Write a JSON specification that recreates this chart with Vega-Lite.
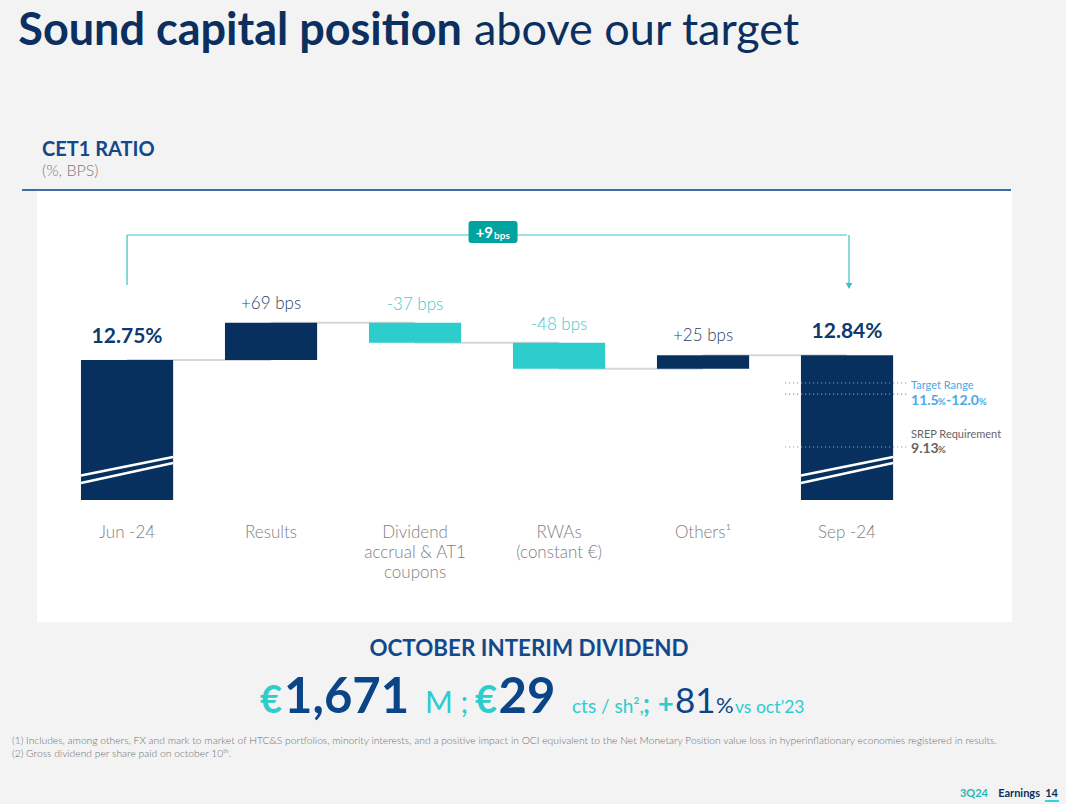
{
  "$schema": "https://vega.github.io/schema/vega-lite/v6.json",
  "background": "#f3f3f3",
  "padding": {"left": 12, "top": 0, "right": 0, "bottom": 0},
  "bounds": "flush",
  "spacing": 16,
  "config": {"font": "Lato", "view": {"stroke": null}},
  "vconcat": [
    {
      "width": 1029,
      "height": 174,
      "data": {"values": [{"part": "bold", "text": "Sound capital position"}, {"part": "regular", "text": "above our target"}]},
      "layer": [
        {"transform": [{"filter": "datum.part === 'bold'"}],
         "mark": {"type": "text", "align": "right", "baseline": "alphabetic", "dx": -89.5, "dy": -42, "fontSize": 45, "fontWeight": "bold", "color": "#0b2f5f"},
         "encoding": {"text": {"field": "text"}}},
        {"transform": [{"filter": "datum.part === 'regular'"}],
         "mark": {"type": "text", "align": "left", "baseline": "alphabetic", "dx": -77.5, "dy": -42, "fontSize": 45, "fontWeight": "normal", "color": "#0b2f5f"},
         "encoding": {"text": {"field": "text"}}}
      ]
    },
    {
      "width": 975,
      "height": 432,
      "view": {"fill": "white", "stroke": null},
      "title": {"text": "CET1 RATIO", "subtitle": "(%, BPS)", "anchor": "start", "frame": "group", "dx": 5, "offset": 10, "fontSize": 20, "fontWeight": "bold", "color": "#13498a", "subtitleFontSize": 16, "subtitleColor": "#7a7a7a", "subtitlePadding": 3, "subtitleFont": "Lato", "subtitleFontWeight": 300},
      "resolve": {"scale": {"y": "independent"}},
      "layer": [
        {
          "data": {"values": [
            {"step": "Jun -24", "type": "total", "start": null, "end": 12.75, "next": "Results", "label": "12.75%"},
            {"step": "Results", "type": "increase", "start": 12.75, "end": 13.44, "next": "Dividend|accrual & AT1|coupons", "label": "+69 bps"},
            {"step": "Dividend|accrual & AT1|coupons", "type": "decrease", "start": 13.44, "end": 13.07, "next": "RWAs|(constant €)", "label": "-37 bps"},
            {"step": "RWAs|(constant €)", "type": "decrease", "start": 13.07, "end": 12.59, "next": "Others¹", "label": "-48 bps"},
            {"step": "Others¹", "type": "increase", "start": 12.59, "end": 12.84, "next": "Sep -24", "label": "+25 bps"},
            {"step": "Sep -24", "type": "total", "start": null, "end": 12.84, "next": null, "label": "12.84%"}
          ]},
          "layer": [
            {"transform": [{"filter": "datum.next != null"}],
             "mark": {"type": "rule", "color": "#d6d6d6", "strokeWidth": 2},
             "encoding": {
               "x": {"field": "step", "type": "nominal"},
               "x2": {"field": "next"},
               "y": {"field": "end", "type": "quantitative", "scale": {"domain": [7.9, 15.9]}, "axis": null}}},
            {"transform": [{"filter": "datum.type === 'total'"}],
             "mark": {"type": "bar", "color": "#08305f"},
             "encoding": {
               "x": {"field": "step", "type": "nominal",
                     "scale": {"domain": ["Jun -24", "Results", "Dividend|accrual & AT1|coupons", "RWAs|(constant €)", "Others¹", "Sep -24"], "paddingInner": 0.36, "paddingOuter": 0.5655, "align": 0.27},
                     "axis": {"orient": "bottom", "offset": -122, "domain": false, "ticks": false, "grid": false, "title": null, "labelAngle": 0, "labelAlign": "center", "labelPadding": 24, "labelBaseline": "top", "labelExpr": "split(datum.label, '|')", "labelFontSize": 17, "labelFont": "Lato", "labelFontWeight": 300, "labelColor": "#7f7f7f", "labelLineHeight": 20, "labelLimit": 0}},
               "y": {"field": "end", "type": "quantitative", "scale": {"domain": [7.9, 15.9]}, "axis": null},
               "y2": {"datum": 10.16}}},
            {"transform": [{"filter": "datum.type === 'increase'"}],
             "mark": {"type": "bar", "color": "#08305f"},
             "encoding": {
               "x": {"field": "step", "type": "nominal"},
               "y": {"field": "start", "type": "quantitative", "scale": {"domain": [7.9, 15.9]}, "axis": null},
               "y2": {"field": "end"}}},
            {"transform": [{"filter": "datum.type === 'decrease'"}],
             "mark": {"type": "bar", "color": "#2dcccd"},
             "encoding": {
               "x": {"field": "step", "type": "nominal"},
               "y": {"field": "start", "type": "quantitative", "scale": {"domain": [7.9, 15.9]}, "axis": null},
               "y2": {"field": "end"}}},
            {"transform": [{"filter": "datum.type === 'total'"}],
             "mark": {"type": "rule", "color": "white", "strokeWidth": 2.5, "xOffset": -46, "x2Offset": 46},
             "encoding": {
               "x": {"field": "step", "type": "nominal"},
               "x2": {"field": "step"},
               "y": {"datum": 10.613, "scale": {"domain": [7.9, 15.9]}, "axis": null},
               "y2": {"datum": 10.956}}},
            {"transform": [{"filter": "datum.type === 'total'"}],
             "mark": {"type": "rule", "color": "white", "strokeWidth": 2.5, "xOffset": -46, "x2Offset": 46},
             "encoding": {
               "x": {"field": "step", "type": "nominal"},
               "x2": {"field": "step"},
               "y": {"datum": 10.474, "scale": {"domain": [7.9, 15.9]}, "axis": null},
               "y2": {"datum": 10.844}}},
            {"transform": [{"filter": "datum.type === 'total'"}],
             "mark": {"type": "text", "baseline": "alphabetic", "dy": -17, "fontSize": 21, "fontWeight": "bold", "color": "#0d3a70"},
             "encoding": {
               "x": {"field": "step", "type": "nominal"},
               "y": {"field": "end", "type": "quantitative", "scale": {"domain": [7.9, 15.9]}, "axis": null},
               "text": {"field": "label"}}},
            {"transform": [{"filter": "datum.type === 'increase'"}],
             "mark": {"type": "text", "baseline": "alphabetic", "dy": -14, "fontSize": 17, "fontWeight": 300, "color": "#1c3f6c"},
             "encoding": {
               "x": {"field": "step", "type": "nominal"},
               "y": {"field": "end", "type": "quantitative", "scale": {"domain": [7.9, 15.9]}, "axis": null},
               "text": {"field": "label"}}},
            {"transform": [{"filter": "datum.type === 'decrease'"}],
             "mark": {"type": "text", "baseline": "alphabetic", "dy": -13, "fontSize": 17, "fontWeight": 300, "color": "#46c8ca"},
             "encoding": {
               "x": {"field": "step", "type": "nominal"},
               "y": {"field": "start", "type": "quantitative", "scale": {"domain": [7.9, 15.9]}, "axis": null},
               "text": {"field": "label"}}}
          ]
        },
        {
          "data": {"values": [{"change": "+9", "unit": "bps", "from": "Jun -24", "to": "Sep -24"}]},
          "layer": [
            {"mark": {"type": "rule", "color": "#35c4c6", "strokeWidth": 1.2},
             "encoding": {"x": {"field": "from", "type": "nominal"}, "x2": {"field": "to"}, "y": {"datum": 15.067, "scale": {"domain": [7.9, 15.9]}, "axis": null}}},
            {"mark": {"type": "rule", "color": "#35c4c6", "strokeWidth": 1.2},
             "encoding": {"x": {"field": "from", "type": "nominal"}, "y": {"datum": 14.14, "scale": {"domain": [7.9, 15.9]}, "axis": null}, "y2": {"datum": 15.067}}},
            {"mark": {"type": "rule", "color": "#35c4c6", "strokeWidth": 1.2, "xOffset": 2},
             "encoding": {"x": {"field": "to", "type": "nominal"}, "y": {"datum": 14.16, "scale": {"domain": [7.9, 15.9]}, "axis": null}, "y2": {"datum": 15.067}}},
            {"mark": {"type": "point", "shape": "triangle-down", "filled": true, "size": 45, "color": "#35c4c6", "opacity": 1, "xOffset": 2},
             "encoding": {"x": {"field": "to", "type": "nominal"}, "y": {"datum": 14.122, "scale": {"domain": [7.9, 15.9]}, "axis": null}}},
            {"mark": {"type": "point", "shape": "M-0.88,-0.449 L0.88,-0.449 Q1,-0.449 1,-0.33 L1,0.33 Q1,0.449 0.88,0.449 L-0.88,0.449 Q-1,0.449 -1,0.33 L-1,-0.33 Q-1,-0.449 -0.88,-0.449 Z", "filled": true, "size": 2401, "color": "#00a39e", "opacity": 1, "xOffset": 78, "yOffset": -3},
             "encoding": {"x": {"datum": "Dividend|accrual & AT1|coupons"}, "y": {"datum": 15.067, "scale": {"domain": [7.9, 15.9]}, "axis": null}}},
            {"mark": {"type": "text", "align": "right", "baseline": "alphabetic", "dx": 78, "dy": 3, "fontSize": 15, "fontWeight": "bold", "color": "white"},
             "encoding": {"x": {"datum": "Dividend|accrual & AT1|coupons"}, "y": {"datum": 15.067, "scale": {"domain": [7.9, 15.9]}, "axis": null}, "text": {"field": "change"}}},
            {"mark": {"type": "text", "align": "left", "baseline": "alphabetic", "dx": 79, "dy": 4, "fontSize": 10, "fontWeight": "bold", "color": "white"},
             "encoding": {"x": {"datum": "Dividend|accrual & AT1|coupons"}, "y": {"datum": 15.067, "scale": {"domain": [7.9, 15.9]}, "axis": null}, "text": {"field": "unit"}}},
            {"mark": {"type": "rule", "color": "#3a6ea5", "strokeWidth": 2, "xOffset": -15, "x2Offset": -1},
             "encoding": {"x": {"value": 0}, "x2": {"value": "width"}, "y": {"datum": 15.9, "scale": {"domain": [7.9, 15.9]}, "axis": null}}}
          ]
        },
        {
          "data": {"values": [
            {"label": "Target Range", "kind": "target", "value": 12.0},
            {"label": "Target Range", "kind": "target", "value": 11.5},
            {"label": "SREP Requirement", "kind": "srep", "value": 9.13}
          ]},
          "layer": [
            {"transform": [{"filter": "datum.kind === 'target'"}],
             "mark": {"type": "rule", "color": "#4aa8e8", "strokeWidth": 1.2, "strokeDash": [1.2, 2.8], "xOffset": -62, "x2Offset": 60},
             "encoding": {"x": {"datum": "Sep -24"}, "x2": {"datum": "Sep -24"}, "y": {"field": "value", "type": "quantitative", "scale": {"domain": [1.283, 20.655]}, "axis": null}}},
            {"transform": [{"filter": "datum.kind === 'srep'"}],
             "mark": {"type": "rule", "color": "#a0a0a0", "strokeWidth": 1.2, "strokeDash": [1.2, 2.8], "xOffset": -62, "x2Offset": 60},
             "encoding": {"x": {"datum": "Sep -24"}, "x2": {"datum": "Sep -24"}, "y": {"field": "value", "type": "quantitative", "scale": {"domain": [1.283, 20.655]}, "axis": null}}},
            {"transform": [{"filter": "datum.value === 12"}],
             "mark": {"type": "text", "align": "left", "baseline": "alphabetic", "dx": 64, "dy": 6, "fontSize": 11, "color": "#4aa8e8"},
             "encoding": {"x": {"datum": "Sep -24"}, "y": {"field": "value", "type": "quantitative", "scale": {"domain": [1.283, 20.655]}, "axis": null}, "text": {"field": "label"}}},
            {"transform": [{"filter": "datum.value === 11.5"}],
             "mark": {"type": "text", "align": "left", "baseline": "alphabetic", "dx": 64, "dy": 11, "fontSize": 14, "fontWeight": "bold", "color": "#4aa8e8", "text": "11.5"},
             "encoding": {"x": {"datum": "Sep -24"}, "y": {"field": "value", "type": "quantitative", "scale": {"domain": [1.283, 20.655]}, "axis": null}}},
            {"transform": [{"filter": "datum.value === 11.5"}],
             "mark": {"type": "text", "align": "left", "baseline": "alphabetic", "dx": 91, "dy": 11, "fontSize": 9.5, "fontWeight": "bold", "color": "#4aa8e8", "text": "%"},
             "encoding": {"x": {"datum": "Sep -24"}, "y": {"field": "value", "type": "quantitative", "scale": {"domain": [1.283, 20.655]}, "axis": null}}},
            {"transform": [{"filter": "datum.value === 11.5"}],
             "mark": {"type": "text", "align": "left", "baseline": "alphabetic", "dx": 99, "dy": 11, "fontSize": 14, "fontWeight": "bold", "color": "#4aa8e8", "text": "-12.0"},
             "encoding": {"x": {"datum": "Sep -24"}, "y": {"field": "value", "type": "quantitative", "scale": {"domain": [1.283, 20.655]}, "axis": null}}},
            {"transform": [{"filter": "datum.value === 11.5"}],
             "mark": {"type": "text", "align": "left", "baseline": "alphabetic", "dx": 132, "dy": 11, "fontSize": 9.5, "fontWeight": "bold", "color": "#4aa8e8", "text": "%"},
             "encoding": {"x": {"datum": "Sep -24"}, "y": {"field": "value", "type": "quantitative", "scale": {"domain": [1.283, 20.655]}, "axis": null}}},
            {"transform": [{"filter": "datum.kind === 'srep'"}],
             "mark": {"type": "text", "align": "left", "baseline": "alphabetic", "dx": 64, "dy": -9, "fontSize": 11, "color": "#666666"},
             "encoding": {"x": {"datum": "Sep -24"}, "y": {"field": "value", "type": "quantitative", "scale": {"domain": [1.283, 20.655]}, "axis": null}, "text": {"field": "label"}}},
            {"transform": [{"filter": "datum.kind === 'srep'"}],
             "mark": {"type": "text", "align": "left", "baseline": "alphabetic", "dx": 64, "dy": 6, "fontSize": 14, "fontWeight": "bold", "color": "#666666", "text": "9.13"},
             "encoding": {"x": {"datum": "Sep -24"}, "y": {"field": "value", "type": "quantitative", "scale": {"domain": [1.283, 20.655]}, "axis": null}}},
            {"transform": [{"filter": "datum.kind === 'srep'"}],
             "mark": {"type": "text", "align": "left", "baseline": "alphabetic", "dx": 91, "dy": 6, "fontSize": 9.5, "fontWeight": "bold", "color": "#666666", "text": "%"},
             "encoding": {"x": {"datum": "Sep -24"}, "y": {"field": "value", "type": "quantitative", "scale": {"domain": [1.283, 20.655]}, "axis": null}}}
          ]
        }
      ]
    },
    {
      "width": 1029,
      "height": 90,
      "data": {"values": [
        {"piece": "heading", "text": "OCTOBER INTERIM DIVIDEND"},
        {"piece": "euro1", "text": "€"},
        {"piece": "total", "text": "1,671"},
        {"piece": "unit1", "text": "M ;"},
        {"piece": "euro2", "text": "€"},
        {"piece": "dps", "text": "29"},
        {"piece": "unit2", "text": "cts / sh²,"},
        {"piece": "semi", "text": ";"},
        {"piece": "plus", "text": "+"},
        {"piece": "growth", "text": "81"},
        {"piece": "pct", "text": "%"},
        {"piece": "vs", "text": "vs oct’23"}
      ]},
      "layer": [
        {"transform": [{"filter": "datum.piece === 'heading'"}], "mark": {"type": "text", "align": "center", "baseline": "alphabetic", "dx": -22.5, "dy": -27, "fontSize": 22.4, "fontWeight": "bold", "color": "#13498a"}, "encoding": {"text": {"field": "text"}}},
        {"transform": [{"filter": "datum.piece === 'euro1'"}], "mark": {"type": "text", "align": "left", "baseline": "alphabetic", "dx": -291.5, "dy": 30, "fontSize": 38, "fontWeight": "bold", "color": "#2dcccd"}, "encoding": {"text": {"field": "text"}}},
        {"transform": [{"filter": "datum.piece === 'total'"}], "mark": {"type": "text", "align": "left", "baseline": "alphabetic", "dx": -267.5, "dy": 30, "fontSize": 49, "fontWeight": "bold", "color": "#0b4587"}, "encoding": {"text": {"field": "text"}}},
        {"transform": [{"filter": "datum.piece === 'unit1'"}], "mark": {"type": "text", "align": "left", "baseline": "alphabetic", "dx": -126.5, "dy": 30, "fontSize": 30, "color": "#2dcccd"}, "encoding": {"text": {"field": "text"}}},
        {"transform": [{"filter": "datum.piece === 'euro2'"}], "mark": {"type": "text", "align": "left", "baseline": "alphabetic", "dx": -76.5, "dy": 30, "fontSize": 38, "fontWeight": "bold", "color": "#2dcccd"}, "encoding": {"text": {"field": "text"}}},
        {"transform": [{"filter": "datum.piece === 'dps'"}], "mark": {"type": "text", "align": "left", "baseline": "alphabetic", "dx": -53, "dy": 30, "fontSize": 49, "fontWeight": "bold", "color": "#0b4587"}, "encoding": {"text": {"field": "text"}}},
        {"transform": [{"filter": "datum.piece === 'unit2'"}], "mark": {"type": "text", "align": "left", "baseline": "alphabetic", "dx": 20.5, "dy": 30, "fontSize": 19, "color": "#2dcccd"}, "encoding": {"text": {"field": "text"}}},
        {"transform": [{"filter": "datum.piece === 'semi'"}], "mark": {"type": "text", "align": "left", "baseline": "alphabetic", "dx": 91.5, "dy": 30, "fontSize": 26, "fontWeight": "bold", "color": "#2dcccd"}, "encoding": {"text": {"field": "text"}}},
        {"transform": [{"filter": "datum.piece === 'plus'"}], "mark": {"type": "text", "align": "left", "baseline": "alphabetic", "dx": 106.5, "dy": 30, "fontSize": 27, "fontWeight": "bold", "color": "#2dcccd"}, "encoding": {"text": {"field": "text"}}},
        {"transform": [{"filter": "datum.piece === 'growth'"}], "mark": {"type": "text", "align": "left", "baseline": "alphabetic", "dx": 123.5, "dy": 30, "fontSize": 35, "color": "#0b4587"}, "encoding": {"text": {"field": "text"}}},
        {"transform": [{"filter": "datum.piece === 'pct'"}], "mark": {"type": "text", "align": "left", "baseline": "alphabetic", "dx": 164.5, "dy": 30, "fontSize": 22, "color": "#0b4587"}, "encoding": {"text": {"field": "text"}}},
        {"transform": [{"filter": "datum.piece === 'vs'"}], "mark": {"type": "text", "align": "left", "baseline": "alphabetic", "dx": 183.5, "dy": 30, "fontSize": 17.5, "color": "#2dcccd"}, "encoding": {"text": {"field": "text"}}}
      ]
    },
    {
      "width": 1029,
      "height": 60,
      "data": {"values": [
        {"piece": "note1", "text": "(1) Includes, among others, FX and mark to market of HTC&S portfolios, minority interests, and a positive impact in OCI equivalent to the Net Monetary Position value loss in hyperinflationary economies registered in results."},
        {"piece": "note2", "text": "(2) Gross dividend per share paid on october 10ᵗʰ."},
        {"piece": "period", "text": "3Q24"},
        {"piece": "doc", "text": "Earnings"},
        {"piece": "page", "text": "14"}
      ]},
      "layer": [
        {"transform": [{"filter": "datum.piece === 'note1'"}], "mark": {"type": "text", "align": "left", "baseline": "alphabetic", "dx": -539.5, "dy": -30, "fontSize": 10.3, "fontWeight": 300, "color": "#6f6f6f"}, "encoding": {"text": {"field": "text"}}},
        {"transform": [{"filter": "datum.piece === 'note2'"}], "mark": {"type": "text", "align": "left", "baseline": "alphabetic", "dx": -539.5, "dy": -17, "fontSize": 10.3, "fontWeight": 300, "color": "#6f6f6f"}, "encoding": {"text": {"field": "text"}}},
        {"transform": [{"filter": "datum.piece === 'period'"}], "mark": {"type": "text", "align": "right", "baseline": "alphabetic", "dx": 436.5, "dy": 23, "fontSize": 11, "fontWeight": "bold", "color": "#2ab5b8"}, "encoding": {"text": {"field": "text"}}},
        {"transform": [{"filter": "datum.piece === 'doc'"}], "mark": {"type": "text", "align": "right", "baseline": "alphabetic", "dx": 488.5, "dy": 23, "fontSize": 11, "fontWeight": "bold", "color": "#0b2f5f"}, "encoding": {"text": {"field": "text"}}},
        {"transform": [{"filter": "datum.piece === 'page'"}], "mark": {"type": "text", "align": "right", "baseline": "alphabetic", "dx": 506.5, "dy": 23, "fontSize": 11, "fontWeight": "bold", "color": "#0b2f5f"}, "encoding": {"text": {"field": "text"}}},
        {"transform": [{"filter": "datum.piece === 'page'"}], "mark": {"type": "point", "shape": "M-1,-0.13 L1,-0.13 L1,0.13 L-1,0.13 Z", "filled": true, "size": 196, "color": "#2dcccd", "opacity": 1, "xOffset": 500.5, "yOffset": 27}, "encoding": {}}
      ]
    }
  ]
}
